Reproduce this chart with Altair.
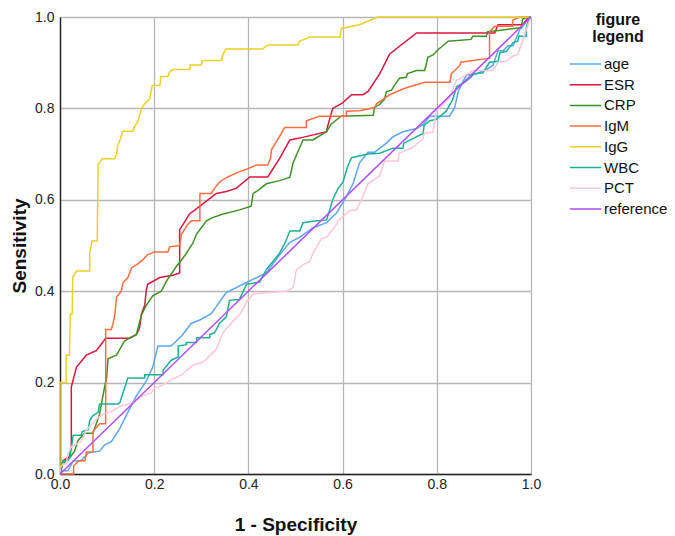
import altair as alt
import pandas as pd

series = ["age", "ESR", "CRP", "IgM", "IgG", "WBC", "PCT", "reference"]
colors = ["#5BA8F2", "#D8173F", "#3F9226", "#FF6E40", "#EDD02A", "#1BB197", "#FFC6D9", "#B24DFF"]

age_x = [0, 0.006, 0.017, 0.028, 0.045, 0.06, 0.084, 0.095, 0.109, 0.127, 0.144, 0.162, 0.183, 0.197, 0.208,
         0.236, 0.258, 0.279, 0.297, 0.321, 0.353, 0.396, 0.438, 0.466, 0.488, 0.509, 0.537, 0.566, 0.587, 0.608,
         0.622, 0.636, 0.654, 0.668, 0.693, 0.707, 0.728, 0.757, 0.771, 0.785, 0.827, 0.838, 0.845, 0.852, 0.863,
         0.884, 0.905, 0.919, 0.93, 0.941, 0.951, 0.962, 0.976, 0.99, 1.0]
age_y = [0, 0.007, 0.007, 0.029, 0.029, 0.046, 0.05, 0.064, 0.071, 0.1, 0.135, 0.171, 0.203, 0.234, 0.28,
         0.28, 0.302, 0.33, 0.337, 0.351, 0.397, 0.419, 0.44, 0.479, 0.507, 0.518, 0.539, 0.55, 0.571, 0.607,
         0.635, 0.681, 0.704, 0.704, 0.724, 0.738, 0.749, 0.756, 0.765, 0.783, 0.783, 0.802, 0.835, 0.852, 0.873,
         0.876, 0.885, 0.894, 0.926, 0.926, 0.937, 0.937, 0.972, 0.99, 1.0]

esr_x = [0, 0.006, 0.02, 0.024, 0.024, 0.035, 0.056, 0.077, 0.097, 0.148, 0.162, 0.169, 0.173, 0.18, 0.183,
         0.186, 0.212, 0.24, 0.254, 0.254, 0.275, 0.297, 0.332, 0.353, 0.374, 0.403, 0.441, 0.466, 0.488, 0.509,
         0.566, 0.568, 0.579, 0.6, 0.619, 0.643, 0.654, 0.679, 0.70, 0.757, 0.923, 0.93, 0.982, 0.995, 1.0]
esr_y = [0, 0.029, 0.038, 0.06, 0.19, 0.234, 0.26, 0.27, 0.297, 0.297, 0.305, 0.32, 0.35, 0.37, 0.40,
         0.415, 0.43, 0.435, 0.44, 0.534, 0.569, 0.586, 0.614, 0.618, 0.625, 0.65, 0.65, 0.69, 0.731, 0.735,
         0.749, 0.76, 0.80, 0.812, 0.83, 0.83, 0.837, 0.876, 0.919, 0.965, 0.965, 0.983, 0.983, 1.0, 1.0]

crp_x = [0, 0.006, 0.021, 0.031, 0.038, 0.052, 0.07, 0.077, 0.084, 0.095, 0.099, 0.102, 0.12, 0.127, 0.137,
         0.148, 0.162, 0.173, 0.183, 0.197, 0.215, 0.226, 0.247, 0.265, 0.282, 0.29, 0.311, 0.324, 0.343, 0.381,
         0.406, 0.41, 0.42, 0.438, 0.466, 0.488, 0.495, 0.516, 0.537, 0.566, 0.576, 0.597, 0.665, 0.668, 0.679,
         0.689, 0.693, 0.704, 0.711, 0.721, 0.735, 0.738, 0.757, 0.774, 0.777, 0.781, 0.792, 0.803, 0.813, 0.824,
         0.873, 0.876, 0.905, 0.908, 0.927, 0.98, 0.982, 0.99, 1.0]
crp_y = [0, 0.022, 0.036, 0.05, 0.073, 0.089, 0.089, 0.11, 0.131, 0.192, 0.21, 0.252, 0.26, 0.273, 0.291,
         0.298, 0.305, 0.348, 0.369, 0.39, 0.40, 0.422, 0.454, 0.478, 0.505, 0.525, 0.554, 0.561, 0.568, 0.578,
         0.586, 0.614, 0.62, 0.635, 0.642, 0.649, 0.681, 0.731, 0.731, 0.749, 0.766, 0.783, 0.785, 0.802, 0.809,
         0.82, 0.837, 0.84, 0.852, 0.866, 0.868, 0.876, 0.883, 0.883, 0.894, 0.912, 0.917, 0.929, 0.937, 0.947,
         0.951, 0.958, 0.958, 0.968, 0.97, 0.977, 0.995, 1.0, 1.0]

igm_x = [0, 0.029, 0.029, 0.04, 0.053, 0.056, 0.07, 0.07, 0.084, 0.097, 0.097, 0.109, 0.116, 0.12, 0.13,
         0.134, 0.144, 0.152, 0.165, 0.176, 0.186, 0.201, 0.229, 0.233, 0.254, 0.258, 0.265, 0.27, 0.279, 0.297,
         0.297, 0.321, 0.328, 0.339, 0.356, 0.377, 0.396, 0.417, 0.441, 0.447, 0.449, 0.46, 0.477, 0.523, 0.523,
         0.551, 0.608, 0.608, 0.636, 0.668, 0.672, 0.70, 0.732, 0.774, 0.828, 0.831, 0.849, 0.851, 0.912, 0.912,
         0.923, 0.961, 0.961, 0.975, 1.0]
igm_y = [0, 0, 0.018, 0.029, 0.029, 0.048, 0.048, 0.093, 0.11, 0.11, 0.316, 0.316, 0.344, 0.387, 0.40,
         0.419, 0.43, 0.451, 0.46, 0.469, 0.48, 0.486, 0.486, 0.497, 0.50, 0.525, 0.536, 0.545, 0.554, 0.554,
         0.614, 0.614, 0.625, 0.639, 0.65, 0.66, 0.667, 0.676, 0.676, 0.69, 0.71, 0.728, 0.758, 0.758, 0.773,
         0.783, 0.783, 0.794, 0.795, 0.802, 0.81, 0.83, 0.844, 0.857, 0.857, 0.876, 0.894, 0.901, 0.91, 0.968,
         0.98, 0.98, 0.993, 1.0, 1.0]

igg_x = [0, 0, 0.013, 0.013, 0.02, 0.022, 0.026, 0.027, 0.035, 0.063, 0.063, 0.068, 0.079, 0.081, 0.09,
         0.116, 0.12, 0.123, 0.127, 0.133, 0.155, 0.158, 0.165, 0.173, 0.18, 0.19, 0.196, 0.212, 0.214, 0.229,
         0.233, 0.24, 0.275, 0.277, 0.30, 0.302, 0.343, 0.345, 0.352, 0.43, 0.441, 0.505, 0.509, 0.53, 0.595,
         0.597, 0.636, 0.647, 0.675, 1.0]
igg_y = [0, 0.2, 0.2, 0.26, 0.26, 0.35, 0.35, 0.43, 0.444, 0.444, 0.483, 0.51, 0.51, 0.678, 0.69,
         0.69, 0.70, 0.72, 0.73, 0.75, 0.75, 0.76, 0.77, 0.80, 0.81, 0.82, 0.85, 0.85, 0.87, 0.87,
         0.88, 0.885, 0.885, 0.895, 0.895, 0.905, 0.905, 0.915, 0.93, 0.93, 0.939, 0.939, 0.947, 0.956, 0.956,
         0.975, 0.983, 0.988, 1.0, 1.0]

wbc_x = [0, 0.006, 0.017, 0.021, 0.028, 0.045, 0.047, 0.06, 0.063, 0.07, 0.081, 0.084, 0.123, 0.127, 0.144,
         0.18, 0.18, 0.219, 0.219, 0.236, 0.251, 0.251, 0.268, 0.268, 0.29, 0.29, 0.318, 0.318, 0.328, 0.339,
         0.353, 0.36, 0.381, 0.396, 0.424, 0.438, 0.466, 0.477, 0.488, 0.509, 0.516, 0.537, 0.566, 0.58, 0.59,
         0.601, 0.611, 0.619, 0.654, 0.679, 0.707, 0.728, 0.73, 0.771, 0.773, 0.785, 0.799, 0.82, 0.834, 0.842,
         0.856, 0.87, 0.88, 0.898, 0.912, 0.93, 0.934, 0.948, 0.962, 0.972, 0.974, 0.99, 0.99, 0.997, 1.0]
wbc_y = [0, 0.029, 0.029, 0.036, 0.085, 0.085, 0.093, 0.097, 0.117, 0.128, 0.135, 0.153, 0.153, 0.156, 0.21,
         0.21, 0.217, 0.217, 0.227, 0.249, 0.256, 0.28, 0.283, 0.288, 0.288, 0.298, 0.298, 0.305, 0.309, 0.33,
         0.344, 0.38, 0.382, 0.415, 0.42, 0.447, 0.483, 0.504, 0.532, 0.532, 0.55, 0.553, 0.556, 0.603, 0.624,
         0.639, 0.674, 0.692, 0.70, 0.702, 0.713, 0.713, 0.724, 0.745, 0.763, 0.773, 0.776, 0.794, 0.82, 0.848,
         0.855, 0.866, 0.876, 0.878, 0.901, 0.903, 0.922, 0.925, 0.944, 0.947, 0.958, 0.958, 0.977, 1.0, 1.0]

pct_x = [0, 0.0, 0.006, 0.013, 0.017, 0.024, 0.045, 0.056, 0.074, 0.091, 0.105, 0.13, 0.155, 0.162, 0.176,
         0.194, 0.201, 0.219, 0.236, 0.258, 0.282, 0.304, 0.318, 0.332, 0.346, 0.367, 0.381, 0.396, 0.41, 0.445,
         0.481, 0.495, 0.502, 0.516, 0.53, 0.537, 0.555, 0.566, 0.587, 0.59, 0.615, 0.629, 0.64, 0.654, 0.679,
         0.689, 0.718, 0.72, 0.749, 0.771, 0.773, 0.792, 0.799, 0.827, 0.842, 0.849, 0.877, 0.919, 0.93, 0.948,
         0.962, 0.972, 0.983, 0.99, 1.0]
pct_y = [0, 0.013, 0.022, 0.022, 0.044, 0.06, 0.071, 0.096, 0.117, 0.131, 0.135, 0.149, 0.156, 0.163, 0.171,
         0.178, 0.188, 0.195, 0.206, 0.217, 0.238, 0.245, 0.259, 0.273, 0.309, 0.334, 0.348, 0.376, 0.394, 0.397,
         0.40, 0.408, 0.447, 0.458, 0.465, 0.483, 0.515, 0.518, 0.546, 0.553, 0.576, 0.578, 0.60, 0.635, 0.653,
         0.685, 0.685, 0.702, 0.715, 0.734, 0.745, 0.748, 0.794, 0.823, 0.862, 0.865, 0.883, 0.883, 0.901, 0.903,
         0.915, 0.918, 0.951, 0.972, 1.0]

ref_x = [0.0, 1.0]
ref_y = [0.0, 1.0]

curves = {
    "age": (age_x, age_y), "ESR": (esr_x, esr_y), "CRP": (crp_x, crp_y), "IgM": (igm_x, igm_y),
    "IgG": (igg_x, igg_y), "WBC": (wbc_x, wbc_y), "PCT": (pct_x, pct_y), "reference": (ref_x, ref_y),
}

rows = []
for name in series:
    xs, ys = curves[name]
    for i, (xv, yv) in enumerate(zip(xs, ys)):
        rows.append({"series": name, "fpr": xv, "tpr": yv, "idx": i})
df = pd.DataFrame(rows)

ticks = [0.0, 0.2, 0.4, 0.6, 0.8, 1.0]
FONT = "Liberation Sans"

chart = alt.Chart(df).mark_line(strokeWidth=1.5, interpolate="linear").encode(
    x=alt.X("fpr:Q", title="1 - Specificity",
            scale=alt.Scale(domain=[0, 1], nice=False, zero=False),
            axis=alt.Axis(values=ticks, format=".1f", labelPadding=3, titlePadding=24,
                          labelFlush=False)),
    y=alt.Y("tpr:Q", title="Sensitivity",
            scale=alt.Scale(domain=[0, 1], nice=False, zero=False),
            axis=alt.Axis(values=ticks, format=".1f", labelPadding=6, titlePadding=5,
                          labelFlush=False)),
    color=alt.Color("series:N", scale=alt.Scale(domain=series, range=colors),
                    legend=alt.Legend(title=["figure", "legend"], orient="none",
                                      legendX=509, legendY=-5)),
    order="idx:Q",
    detail="series:N",
).properties(
    width=471, height=457,
    autosize=alt.AutoSizeParams(type="none"),
    padding={"left": 52, "top": 9, "right": 136, "bottom": 62},
).configure_view(stroke=None).configure_axis(
    grid=True, gridColor="#b7b7b7", gridWidth=1.3,
    domainColor="#222222", domainWidth=1.4,
    ticks=False, tickSize=0,
    labelFont=FONT, labelFontSize=14, labelColor="#222222",
    titleFont=FONT, titleFontSize=19, titleFontWeight="bold", titleColor="#111111",
).configure_legend(
    titleFont=FONT, titleFontSize=16, titleFontWeight="bold", titleColor="#111111",
    titleLineHeight=17, titleAnchor="middle", titleAlign="center", titlePadding=9,
    labelFont=FONT, labelFontSize=15, labelColor="#111111", labelOffset=15,
    symbolType="M-1,0H2.4", symbolSize=342, symbolStrokeWidth=1.5,
    rowPadding=2.7, padding=0,
)

chart.save("out.html", embed_options={"renderer": "svg", "actions": False})
